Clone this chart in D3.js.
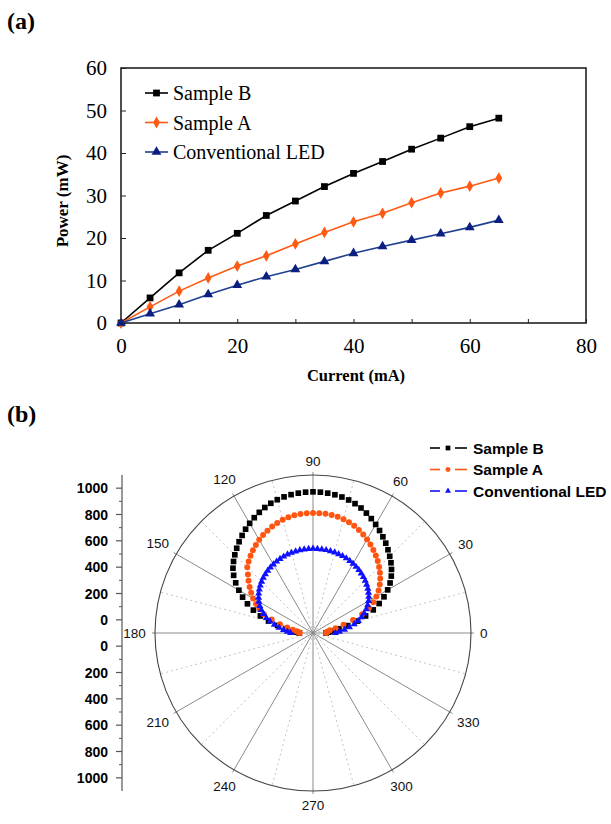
<!DOCTYPE html>
<html><head><meta charset="utf-8">
<script src="https://cdn.jsdelivr.net/npm/d3@7"></script>
<style>body{margin:0;background:#fff} svg{display:block}</style>
</head><body>
<svg id="c" width="611" height="824"></svg>
<script>
// ---------- Data: panel (a) ----------
const currents = [0, 5, 10, 15, 20, 25, 30, 35, 40, 45, 50, 55, 60, 65];
const powerSampleB = [0, 5.9, 11.8, 17.1, 21.1, 25.3, 28.7, 32.1, 35.2, 38.0, 40.9, 43.5, 46.2, 48.2];
const powerSampleA = [0, 3.8, 7.5, 10.6, 13.4, 15.8, 18.6, 21.3, 23.8, 25.8, 28.3, 30.6, 32.2, 34.1];
const powerConventional = [0, 2.2, 4.3, 6.7, 8.9, 10.9, 12.6, 14.5, 16.4, 18.0, 19.5, 21.0, 22.5, 24.2];
const xTicksA = [0, 10, 20, 30, 40, 50, 60, 70, 80];
const xLabelsA = [0, 20, 40, 60, 80];
const yTicksA = [0, 10, 20, 30, 40, 50, 60];
const seriesNamesA = ["Sample B", "Sample A", "Conventional LED"];

// ---------- Data: panel (b) ----------
const angles = [0,3,6,9,12,15,18,21,24,27,30,33,36,39,42,45,48,51,54,57,60,63,66,69,72,75,78,81,84,87,90,
  93,96,99,102,105,108,111,114,117,120,123,126,129,132,135,138,141,144,147,150,153,156,159,162,165,168,171,174,177,180];
const polarSampleB = [0,20,50,100,170,250,320,390,450,505,555,598,635,667,697,724,751,778,803,828,852,875,897,917,933,946,956,963,968,971,972,
  971,968,964,957,948,936,921,903,883,862,840,816,792,766,740,712,682,645,600,550,500,445,385,320,250,175,110,60,25,5];
const polarSampleA = [0,5,12,30,75,140,220,300,365,415,456,494,527,557,584,610,635,658,680,701,721,740,757,772,785,795,802,807,810,811,812,
  811,809,805,799,790,779,766,751,735,717,697,676,654,631,606,565,530,495,460,425,385,345,300,230,160,100,55,25,10,0];
const polarConventional = [70,100,140,180,220,256,288,317,343,366,387,405,421,436,449,461,472,482,492,500,508,515,521,526,530,534,536,538,539,540,540,
  540,539,537,534,531,527,522,516,509,502,494,485,475,464,452,439,425,410,393,375,354,330,303,272,238,200,160,125,95,70];
const angleTicks = [0, 30, 60, 90, 120, 150, 180, 210, 240, 270, 300, 330];
const angleMinor = [15, 45, 75, 105, 135, 165, 195, 225, 255, 285, 315, 345];
const radialMajor = [0, 200, 400, 600, 800, 1000];
const radialMinor = [100, 300, 500, 700, 900];
const seriesNamesB = ["Sample B", "Sample A", "Conventional LED"];

const svg = d3.select("#c");
svg.append("rect").attr("width", 611).attr("height", 824).attr("fill", "#fff");

const serif = "'Liberation Serif','Times New Roman',serif";
const sans = "'Liberation Sans',Arial,sans-serif";

// ---------- Panel labels ----------
svg.append("text").attr("x", 7).attr("y", 29).text("(a)")
  .attr("font-family", serif).attr("font-weight", "bold").attr("font-size", 24);
svg.append("text").attr("x", 7).attr("y", 422).text("(b)")
  .attr("font-family", serif).attr("font-weight", "bold").attr("font-size", 24);

// ---------- Panel (a) ----------
const x = d3.scaleLinear().domain([0, 80]).range([121, 586]);
const y = d3.scaleLinear().domain([0, 60]).range([323, 68]);

const gx = svg.append("g").attr("transform", "translate(0,323)")
  .call(d3.axisBottom(x).tickValues(xTicksA).tickSize(-4).tickPadding(15)
    .tickFormat(d => xLabelsA.includes(d) ? d : ""));
const gy = svg.append("g").attr("transform", "translate(121,0)")
  .call(d3.axisLeft(y).tickValues(yTicksA).tickSize(-5).tickPadding(14));
[gx, gy].forEach(g => {
  g.select(".domain").remove();
  g.selectAll(".tick line").attr("stroke", "#222").attr("stroke-width", 1);
  g.selectAll(".tick text").attr("font-family", serif).attr("font-size", 21).attr("fill", "#000");
});

svg.append("rect").attr("x", 121).attr("y", 68).attr("width", 586 - 121).attr("height", 323 - 68)
  .attr("fill", "none").attr("stroke", "#222").attr("stroke-width", 1.6);

const seriesA = [
  { name: seriesNamesA[0], vals: powerSampleB, color: "#000000", line: "#000000", sym: d3.symbolSquare, size: 46 },
  { name: seriesNamesA[1], vals: powerSampleA, color: "#ff5a14", line: "#ff5a14", sym: d3.symbolDiamond, size: 40 },
  { name: seriesNamesA[2], vals: powerConventional, color: "#0c1f80", line: "#1f3f8f", sym: d3.symbolTriangle, size: 42 }
];
const lineA = d3.line().x(d => x(d[0])).y(d => y(d[1]));
seriesA.forEach(s => {
  const pts = currents.map((c, i) => [c, s.vals[i]]);
  svg.append("path").attr("d", lineA(pts)).attr("fill", "none")
    .attr("stroke", s.line).attr("stroke-width", 1.6);
  svg.append("g").selectAll("path").data(pts).join("path")
    .attr("transform", d => `translate(${x(d[0])},${y(d[1])})`)
    .attr("d", d3.symbol().type(s.sym).size(s.size)).attr("fill", s.color);
});

// legend (a)
seriesA.forEach((s, i) => {
  const ly = 93 + i * 29.5;
  svg.append("line").attr("x1", 145).attr("x2", 168).attr("y1", ly).attr("y2", ly)
    .attr("stroke", s.line).attr("stroke-width", 1.6);
  svg.append("path").attr("transform", `translate(156.5,${ly})`)
    .attr("d", d3.symbol().type(s.sym).size(s.size)).attr("fill", s.color);
  svg.append("text").attr("x", 173).attr("y", ly + 7).text(s.name)
    .attr("font-family", serif).attr("font-size", 20).attr("fill", "#000");
});

// axis titles (a)
svg.append("text").attr("transform", "translate(62,201) rotate(-90)")
  .attr("text-anchor", "middle").attr("dominant-baseline", "central")
  .attr("font-family", serif).attr("font-weight", "bold").attr("font-size", 17).text("Power (mW)");
svg.append("text").attr("x", 356).attr("y", 381).attr("text-anchor", "middle")
  .attr("font-family", serif).attr("font-weight", "bold").attr("font-size", 16.5).text("Current (mA)");

// ---------- Panel (b) ----------
const cx = 313, cy = 633, R = 158;
const r = d3.scaleLinear().domain([-100, 1100]).range([0, R]);
const rad = a => a * Math.PI / 180;
const px = (a, rr) => cx + rr * Math.cos(rad(a));
const py = (a, rr) => cy - rr * Math.sin(rad(a));

const gp = svg.append("g");
gp.selectAll("line.minor").data(angleMinor).join("line")
  .attr("x1", cx).attr("y1", cy).attr("x2", a => px(a, R)).attr("y2", a => py(a, R))
  .attr("stroke", "#bcbcbc").attr("stroke-width", 0.9).attr("stroke-dasharray", "2,3");
gp.selectAll("line.major").data(angleTicks).join("line")
  .attr("x1", cx).attr("y1", cy).attr("x2", a => px(a, R + 3)).attr("y2", a => py(a, R + 3))
  .attr("stroke", "#8a8a8a").attr("stroke-width", 1);
gp.append("circle").attr("cx", cx).attr("cy", cy).attr("r", R)
  .attr("fill", "none").attr("stroke", "#444").attr("stroke-width", 1.1);

gp.selectAll("text.ang").data(angleTicks).join("text")
  .each(function (a) {
    const lbl = String(a);
    const w = lbl.length * 7.6, h = 10;
    const off = R + 9 + Math.abs(Math.cos(rad(a))) * w / 2 + Math.abs(Math.sin(rad(a))) * h / 2;
    d3.select(this).attr("x", px(a, off)).attr("y", py(a, off)).text(lbl);
  })
  .attr("text-anchor", "middle").attr("dominant-baseline", "central")
  .attr("font-family", sans).attr("font-size", 13.5).attr("fill", "#111");

// radial axis on the left
const ax = 122;
const gr = svg.append("g");
gr.append("line").attr("x1", ax).attr("x2", ax).attr("y1", cy - R).attr("y2", cy + R)
  .attr("stroke", "#555").attr("stroke-width", 1.2);
[-1, 1].forEach(sgn => {
  gr.selectAll(null).data(radialMajor).join("line")
    .attr("x1", ax - 6).attr("x2", ax).attr("y1", v => cy + sgn * r(v)).attr("y2", v => cy + sgn * r(v))
    .attr("stroke", "#555").attr("stroke-width", 1.2);
  gr.selectAll(null).data(radialMinor).join("line")
    .attr("x1", ax - 3).attr("x2", ax).attr("y1", v => cy + sgn * r(v)).attr("y2", v => cy + sgn * r(v))
    .attr("stroke", "#555").attr("stroke-width", 1);
  gr.selectAll(null).data(radialMajor).join("text")
    .attr("x", ax - 14).attr("y", v => cy + sgn * r(v)).text(v => v)
    .attr("text-anchor", "end").attr("dominant-baseline", "central")
    .attr("font-family", sans).attr("font-weight", "bold").attr("font-size", 14).attr("fill", "#000");
});

// polar series
const seriesB = [
  { name: seriesNamesB[0], vals: polarSampleB, color: "#000000", sym: d3.symbolSquare, size: 32 },
  { name: seriesNamesB[1], vals: polarSampleA, color: "#ff5510", sym: d3.symbolCircle, size: 28 },
  { name: seriesNamesB[2], vals: polarConventional, color: "#1010ff", sym: d3.symbolTriangle, size: 22 }
];
seriesB.forEach(s => {
  svg.append("g").selectAll("path").data(angles.map((a, i) => [a, s.vals[i]])).join("path")
    .attr("transform", d => `translate(${px(d[0], r(d[1]))},${py(d[0], r(d[1]))})`)
    .attr("d", d3.symbol().type(s.sym).size(s.size)).attr("fill", s.color);
});

// legend (b)
seriesB.forEach((s, i) => {
  const ly = 448 + i * 21.5;
  svg.append("line").attr("x1", 430).attr("x2", 440).attr("y1", ly).attr("y2", ly)
    .attr("stroke", s.color).attr("stroke-width", 1.6);
  svg.append("line").attr("x1", 455).attr("x2", 467).attr("y1", ly).attr("y2", ly)
    .attr("stroke", s.color).attr("stroke-width", 1.6);
  svg.append("path").attr("transform", `translate(448,${ly})`)
    .attr("d", d3.symbol().type(s.sym).size(s.size * 0.7)).attr("fill", s.color);
  svg.append("text").attr("x", 473).attr("y", ly).attr("dominant-baseline", "central").text(s.name)
    .attr("font-family", sans).attr("font-weight", "bold").attr("font-size", 15.5).attr("fill", "#000");
});
</script>
</body></html>
